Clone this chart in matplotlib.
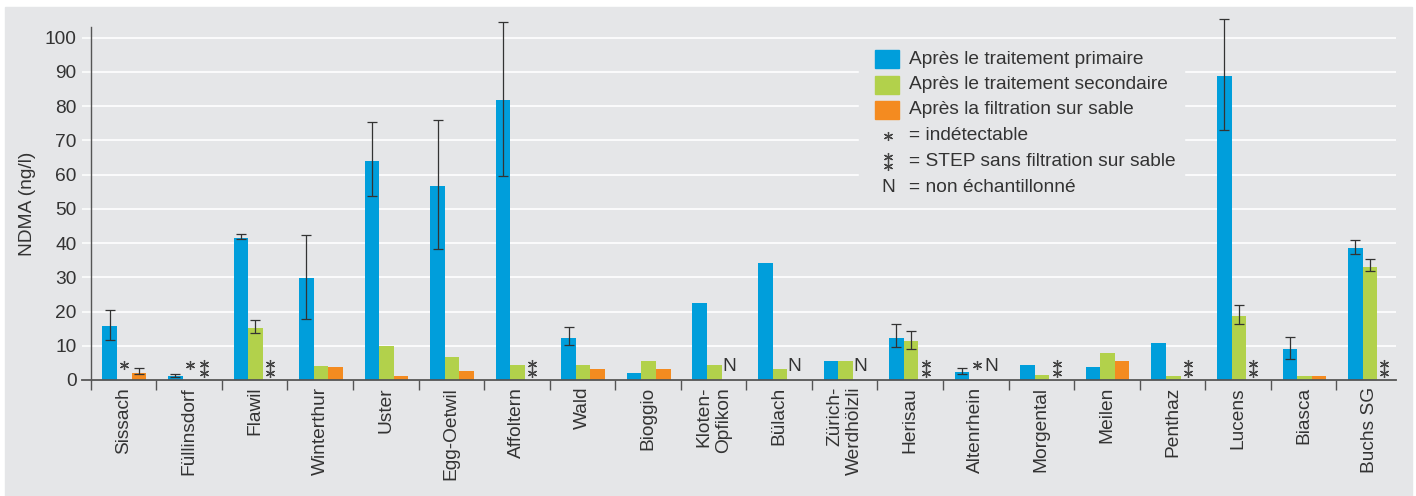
import numpy as np
import matplotlib
matplotlib.use('Agg')
import matplotlib.pyplot as plt
from matplotlib.patches import Rectangle
from matplotlib.lines import Line2D

plt.rcParams['font.family'] = ['Liberation Sans', 'DejaVu Sans']

nan = np.nan

# Stations (STEP)
sites = ['Sissach', 'Füllinsdorf', 'Flawil', 'Winterthur', 'Uster', 'Egg-Oetwil',
         'Affoltern', 'Wald', 'Bioggio', 'Kloten-\nOpfikon', 'Bülach',
         'Zürich-\nWerdhölzli', 'Herisau', 'Altenrhein', 'Morgental', 'Meilen',
         'Penthaz', 'Lucens', 'Biasca', 'Buchs SG']

# NDMA (ng/l) after primary treatment, with lower / upper end of error bar
primary = [15.8, 1.3, 41.5, 29.8, 64.0, 56.7, 81.8, 12.3, 2.0, 22.5,
           34.2, 5.5, 12.3, 2.3, 4.4, 3.8, 10.8, 88.8, 9.1, 38.6]
primary_lo = [11.6, 0.9, 41.2, 17.9, 53.7, 38.2, 59.7, 10.1, nan, nan,
              nan, nan, 9.5, 1.8, nan, nan, nan, 73.1, 6.1, 36.8]
primary_hi = [20.5, 1.7, 42.7, 42.5, 75.4, 75.9, 104.7, 15.5, nan, nan,
              nan, nan, 16.3, 3.6, nan, nan, nan, 105.5, 12.7, 41.0]

# after secondary treatment
secondary = [nan, nan, 15.1, 4.1, 9.9, 6.7, 4.4, 4.4, 5.5, 4.4,
             3.2, 5.5, 11.4, nan, 1.5, 7.9, 1.2, 18.7, 1.2, 33.0]
secondary_lo = [nan, nan, 13.6, nan, nan, nan, nan, nan, nan, nan,
                nan, nan, 9.1, nan, nan, nan, nan, 16.4, nan, 31.8]
secondary_hi = [nan, nan, 17.4, nan, nan, nan, nan, nan, nan, nan,
                nan, nan, 14.2, nan, nan, nan, nan, 21.8, nan, 35.3]
secondary_flag = ['*', '*', '', '', '', '', '', '', '', '',
                  '', '', '', '*', '', '', '', '', '', '']

# after sand filtration
sand = [2.0, nan, nan, 3.8, 1.2, 2.6, nan, 3.2, 3.2, nan,
        nan, nan, nan, nan, nan, 5.5, nan, nan, 1.2, nan]
sand_lo = [1.8] + [nan] * 19
sand_hi = [3.4] + [nan] * 19
sand_flag = ['', '**', '**', '', '', '', '**', '', '', 'N',
             'N', 'N', '**', 'N', '**', '', '**', '**', '', '**']

legend_labels = ['Après le traitement primaire', 'Après le traitement secondaire',
                 'Après la filtration sur sable']
legend_notes = [('*', '= indétectable'), ('**', '= STEP sans filtration sur sable'),
                ('N', '= non échantillonné')]

# colours
c_blue = '#009edb'
c_green = '#b2d14b'
c_orange = '#f48b20'
c_bg = '#e5e6e8'
c_text = '#333333'
c_axis = '#555555'
fs = 13.8

W, H = 1416, 496
fig = plt.figure(figsize=(W / 100, H / 100), dpi=100, facecolor='white')
fig.add_artist(Rectangle((5 / W, 0), (1412 - 5) / W, (H - 7) / H,
                         transform=fig.transFigure, color=c_bg, zorder=-1))

ax = fig.add_axes([90.7 / W, (H - 380) / H, (1396 - 90.7) / W, (380 - 27.4) / H])
ax.set_facecolor(c_bg)
ax.set_axisbelow(True)

x = np.arange(len(sites))
bw = 0.222
off = 0.012
series = [(primary, primary_lo, primary_hi, c_blue),
          (secondary, secondary_lo, secondary_hi, c_green),
          (sand, sand_lo, sand_hi, c_orange)]
for k, (vals, lo, hi, col) in enumerate(series):
    xs = x + (k - 1) * bw + off
    v = np.array(vals, dtype=float)
    ax.bar(xs, np.nan_to_num(v), width=bw, color=col, zorder=2)
    lo = np.array(lo, dtype=float)
    hi = np.array(hi, dtype=float)
    m = ~np.isnan(lo)
    eb = ax.errorbar(xs[m], v[m], yerr=[v[m] - lo[m], hi[m] - v[m]], fmt='none',
                     ecolor=c_text, elinewidth=0.9, capsize=3.8, capthick=0.9, zorder=3)
    for art in eb.lines[1] + eb.lines[2]:
        art.set_clip_on(False)

# flags (*, **, N)
star_kw = dict(marker=(6, 2, 0), color='#444444', markersize=6.5, markeredgewidth=0.9,
               linestyle='none', zorder=3)
for k, flags in ((1, secondary_flag), (2, sand_flag)):
    for i, f in enumerate(flags):
        xf = x[i] + (k - 1) * bw + off
        if f == '*':
            ax.plot([xf], [4.4], **star_kw)
        elif f == '**':
            ax.plot([xf, xf], [4.7, 2.1], **star_kw)
        elif f == 'N':
            ax.text(xf, 2.6, 'N', ha='center', va='baseline', fontsize=fs, color=c_text)

ax.set_xlim(-0.5, 19.41)
ax.set_ylim(0, 103)
ax.set_yticks(np.arange(0, 101, 10))
ax.grid(axis='y', color='white', lw=1.2)
ax.tick_params(axis='y', length=6.2, width=1.1, color='white', labelsize=fs,
               labelcolor=c_text, pad=4)

ax.set_xticks(x)
ax.set_xticklabels(sites, rotation=90, fontsize=fs, color=c_text, va='top',
                   ha='center', multialignment='right')
ax.tick_params(axis='x', which='major', length=0, pad=5)
ax.set_xticks(np.arange(-0.5, 19, 1), minor=True)
ax.tick_params(axis='x', which='minor', length=7.2, width=1.0, color=c_axis)

for s in ('top', 'right'):
    ax.spines[s].set_visible(False)
ax.spines['left'].set_color(c_axis)
ax.spines['left'].set_linewidth(1.0)
ax.spines['bottom'].set_color(c_axis)
ax.spines['bottom'].set_linewidth(1.3)
ax.spines['bottom'].set_bounds(-0.5 - 8.7 / 65.55, 19.41)

ax.set_ylabel('NDMA (ng/l)', fontsize=fs, color=c_text, labelpad=6)


# legend, drawn by hand at pixel positions
def fx(px):
    return px / W


def fy(py):
    return 1 - py / H


fig.add_artist(Rectangle((fx(859), fy(197)), (1184 - 859) / W, (197 - 46) / H,
                         transform=fig.transFigure, color=c_bg, zorder=1))
rows = [59, 84.5, 110, 136, 161.5, 187]
for r, lab, col in zip(rows[:3], legend_labels, [c_blue, c_green, c_orange]):
    fig.add_artist(Rectangle((fx(875), fy(r + 9)), 24 / W, 18 / H,
                             transform=fig.transFigure, color=col, zorder=2))
    fig.text(fx(909), fy(r), lab, fontsize=fs, color=c_text, va='center', zorder=3)
for r, (sym, lab) in zip(rows[3:], legend_notes):
    if sym == '*':
        fig.add_artist(Line2D([fx(888)], [fy(r)], transform=fig.transFigure, **star_kw))
    elif sym == '**':
        fig.add_artist(Line2D([fx(888), fx(888)], [fy(r - 4.5), fy(r + 4.5)],
                              transform=fig.transFigure, **star_kw))
    else:
        fig.text(fx(888), fy(r), sym, fontsize=fs, color=c_text, ha='center',
                 va='center', zorder=3)
    fig.text(fx(909), fy(r), lab, fontsize=fs, color=c_text, va='center', zorder=3)

fig.savefig('out.png', dpi=100, facecolor='white')
